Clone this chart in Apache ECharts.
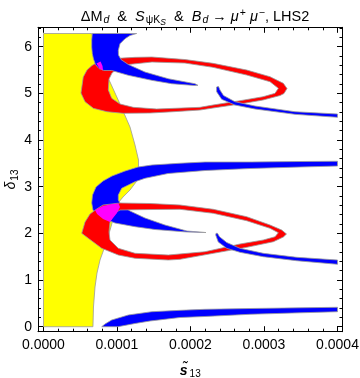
<!DOCTYPE html>
<html>
<head>
<meta charset="utf-8">
<script src="https://cdn.jsdelivr.net/npm/echarts@6/dist/echarts.min.js"></script>
<style>
  html, body { margin: 0; padding: 0; background: #fff; }
  #chart { width: 360px; height: 378px; }
</style>
</head>
<body>
<div id="chart"></div>
<script>
// region outlines: [s13 in units of 1e-4, delta13]
var S13_UNIT = 1e-4;

var xMajorTicks = [0, 1, 2, 3, 4];
var xMinorTicks = [0.2, 0.4, 0.6, 0.8, 1.2, 1.4, 1.6, 1.8, 2.2, 2.4, 2.6, 2.8, 3.2, 3.4, 3.6, 3.8];
var yMajorTicks = [0, 1, 2, 3, 4, 5, 6];
var yMinorTicks = [0.2, 0.4, 0.6, 0.8, 1.2, 1.4, 1.6, 1.8, 2.2, 2.4, 2.6, 2.8, 3.2, 3.4, 3.6, 3.8,
  4.2, 4.4, 4.6, 4.8, 5.2, 5.4, 5.6, 5.8, 6.2, 6.4];

// Delta M_d (yellow)
var yellowRegion = [
  [0, 0], [0, 6.283],
  [0.656, 6.283], [0.701, 6.036], [0.769, 5.715], [0.837, 5.457], [0.905, 5.243], [1.041, 4.772],
  [1.177, 4.279], [1.245, 3.894], [1.293, 3.572], [1.293, 3.315], [1.259, 3.101], [1.177, 2.929],
  [1.082, 2.779], [1.014, 2.651], [0.959, 2.394], [0.925, 2.179], [0.878, 1.922], [0.823, 1.665],
  [0.769, 1.429], [0.728, 1.151], [0.701, 0.851], [0.680, 0.422], [0.673, 0]
];

// S_psiKs (red), upper and lower loop
var redTopOuter = [
  [0.510, 5.007], [0.541, 5.350], [0.592, 5.500], [0.660, 5.597], [0.728, 5.661], [0.837, 5.715],
  [1.014, 5.751], [1.245, 5.772], [1.476, 5.779], [1.925, 5.725], [2.306, 5.644], [2.765, 5.500],
  [3.082, 5.357], [3.263, 5.215], [3.313, 5.104], [3.272, 4.997], [3.218, 4.954], [2.986, 4.858],
  [2.673, 4.772], [2.306, 4.686], [2.129, 4.643], [1.762, 4.607], [1.449, 4.579], [1.082, 4.573],
  [0.864, 4.607], [0.678, 4.680], [0.565, 4.821]
];
var redTopInner = [
  [3.195, 5.108], [3.082, 5.250], [2.765, 5.393], [2.306, 5.558], [1.925, 5.650], [1.476, 5.672],
  [1.150, 5.618], [1.014, 5.543], [0.932, 5.436], [0.891, 5.307], [0.882, 5.072], [0.928, 4.894],
  [1.041, 4.772], [1.222, 4.701], [1.540, 4.665], [2.129, 4.701], [2.306, 4.750], [2.673, 4.843],
  [2.986, 4.928], [3.150, 5.001]
];
var redLowOuter = [
  [0.520, 2.001], [0.565, 2.243], [0.633, 2.415], [0.724, 2.522], [0.810, 2.608], [1.041, 2.651],
  [1.449, 2.640], [1.857, 2.608], [2.310, 2.516], [2.765, 2.357], [3.082, 2.179], [3.241, 2.072],
  [3.306, 1.986], [3.263, 1.922], [3.127, 1.821], [2.765, 1.701], [2.310, 1.573], [1.857, 1.444],
  [1.698, 1.429], [1.245, 1.466], [1.018, 1.536], [0.792, 1.680], [0.610, 1.894]
];
var redLowInner = [
  [3.195, 2.014], [3.082, 2.108], [2.765, 2.271], [2.310, 2.430], [1.857, 2.516], [1.449, 2.511],
  [1.041, 2.501], [0.946, 2.415], [0.905, 2.243], [0.891, 2.029], [0.905, 1.858], [1.018, 1.680],
  [1.245, 1.573], [1.698, 1.536], [2.197, 1.607], [2.673, 1.772], [2.990, 1.858], [3.150, 1.928]
];

// B_d -> mu mu (blue)
var blueTopCrescent = [
  [0.664, 6.283], [0.656, 6.143], [0.656, 5.993], [0.664, 5.850], [0.680, 5.736], [0.707, 5.618],
  [0.755, 5.532], [0.823, 5.490], [0.928, 5.490], [1.154, 5.387], [1.472, 5.280], [1.744, 5.207],
  [2.061, 5.168], [2.102, 5.172],
  [2.061, 5.207], [1.698, 5.314], [1.381, 5.457], [1.154, 5.618], [1.054, 5.725], [1.020, 5.822],
  [1.018, 5.922], [1.041, 6.064], [1.109, 6.171], [1.177, 6.240], [1.268, 6.283]
];
var blueTopTail = [
  [2.381, 5.147], [2.401, 5.072], [2.449, 4.954], [2.605, 4.821], [2.878, 4.729], [3.422, 4.607], [4.0, 4.558],
  [4.0, 4.487], [3.422, 4.551], [2.878, 4.665], [2.605, 4.750], [2.424, 4.873], [2.356, 5.035], [2.354, 5.136]
];
var blueLowCrescent = [
  [4.0, 3.546], [3.490, 3.540], [2.810, 3.529], [2.197, 3.529], [1.857, 3.503], [1.476, 3.465],
  [1.286, 3.422], [1.109, 3.336], [0.932, 3.229], [0.810, 3.122], [0.714, 2.993], [0.667, 2.822],
  [0.656, 2.651], [0.673, 2.501], [0.728, 2.394], [0.837, 2.308], [0.973, 2.222], [1.245, 2.143],
  [1.517, 2.083], [1.952, 2.029], [2.211, 2.018],
  [1.952, 2.051], [1.653, 2.179], [1.381, 2.329], [1.177, 2.480], [1.054, 2.608], [1.018, 2.715],
  [1.018, 2.822], [1.064, 2.966], [1.245, 3.107], [1.381, 3.180], [1.694, 3.283], [2.197, 3.347],
  [2.810, 3.390], [3.490, 3.422], [4.0, 3.443]
];
var blueLowTail = [
  [2.367, 2.001], [2.395, 1.928], [2.493, 1.804], [2.673, 1.680], [2.990, 1.573], [3.445, 1.487], [4.0, 1.429],
  [4.0, 1.337], [3.445, 1.414], [2.990, 1.500], [2.673, 1.594], [2.493, 1.680], [2.378, 1.815], [2.343, 1.965], [2.347, 2.001]
];
var blueBottomBand = [
  [0.792, 0], [0.837, 0.058], [0.928, 0.144], [1.154, 0.251], [1.472, 0.321], [1.857, 0.351],
  [2.197, 0.373], [2.810, 0.390], [3.490, 0.405], [4.0, 0.416],
  [4.0, 0.321], [3.490, 0.298], [2.810, 0.266], [2.197, 0.219], [1.857, 0.197], [1.449, 0.122],
  [1.245, 0.069], [1.014, 0]
];

// all three constraints together (magenta)
var magentaTop = [[0.721, 5.640], [0.776, 5.683], [0.803, 5.586], [0.810, 5.490], [0.762, 5.532]];
var magentaLow = [
  [0.701, 2.501], [0.810, 2.587], [0.932, 2.629], [1.020, 2.640], [1.041, 2.565], [1.000, 2.436],
  [0.946, 2.329], [0.905, 2.243], [0.810, 2.308], [0.728, 2.415]
];

var FONT = 'Liberation Sans, Arial, sans-serif';
var X_MIN = -0.0748 * S13_UNIT, X_MAX = 4.068 * S13_UNIT;
var Y_MIN = -0.107, Y_MAX = 6.416;

function scaleX(list) { return list.map(function (v) { return v * S13_UNIT; }); }

function signedArea(ring) {
  var a = 0;
  for (var i = 0; i < ring.length; i++) {
    var p = ring[i], q = ring[(i + 1) % ring.length];
    a += p[0] * q[1] - q[0] * p[1];
  }
  return a;
}

function ringPath(api, ring) {
  var d = '';
  ring.forEach(function (p, i) {
    var c = api.coord([p[0] * S13_UNIT, p[1]]);
    d += (i ? 'L' : 'M') + c[0].toFixed(2) + ' ' + c[1].toFixed(2) + ' ';
  });
  return d + 'Z ';
}

// one filled region; extra rings are holes
function region(name, rings, color, stroke) {
  return {
    type: 'custom',
    name: name,
    coordinateSystem: 'cartesian2d',
    data: [[0, 0]],
    silent: true,
    animation: false,
    clip: false,
    renderItem: function (params, api) {
      var outerSign = Math.sign(signedArea(rings[0]));
      var d = '';
      rings.forEach(function (r, i) {
        var ring = r;
        if (i > 0 && Math.sign(signedArea(r)) === outerSign) ring = r.slice().reverse();
        d += ringPath(api, ring);
      });
      return {
        type: 'path',
        shape: { pathData: d },
        style: { fill: color, stroke: stroke, lineWidth: stroke ? 0.8 : 0 }
      };
    }
  };
}

function frameAxis(kind, position, ticks, len, line, labels, extra) {
  var ax = {
    type: 'value',
    position: position,
    min: kind === 'x' ? X_MIN : Y_MIN,
    max: kind === 'x' ? X_MAX : Y_MAX,
    axisLine: { show: line, onZero: false, lineStyle: { color: '#000', width: 1 } },
    axisTick: { show: true, inside: true, length: len, customValues: ticks, lineStyle: { color: '#000', width: 1 } },
    axisLabel: { show: false },
    splitLine: { show: false }
  };
  if (labels) {
    ax.axisLabel = {
      show: true, customValues: ticks, margin: 6, fontSize: 14, color: '#000', fontFamily: FONT,
      formatter: kind === 'x' ? function (v) { return v.toFixed(4); } : function (v) { return String(Math.round(v)); }
    };
  }
  return Object.assign(ax, extra || {});
}

function txt(size, italic, pad) {
  var s = { fontSize: size, fontFamily: FONT, color: '#000', fontWeight: 'normal', fontStyle: italic ? 'italic' : 'normal' };
  if (pad) s.padding = pad;
  return s;
}

var xMaj = scaleX(xMajorTicks), xMin = scaleX(xMinorTicks);

var chart = echarts.init(document.getElementById('chart'), null, { renderer: 'canvas' });
chart.setOption({
  animation: false,
  backgroundColor: '#fff',
  title: {
    text: '{r|ΔM}{is|d}{r|  &  }{i|S}{s|ψK}{ss|S}{r|  &  }{i|B}{is|d}{r| → }{i|μ}{sup|+}{r| }{i|μ}{sup|−}{r|, LHS2}',
    left: 190,
    top: 1,
    textAlign: 'center',
    textStyle: {
      fontWeight: 'normal',
      fontSize: 14.5,
      fontFamily: FONT,
      rich: {
        r: txt(14.5, false),
        i: txt(14.5, true),
        is: txt(10.5, true, [7, 0, 0, 1]),
        s: txt(10.5, false, [7, 0, 0, 1]),
        ss: txt(8.5, true, [12, 0, 0, 0]),
        sup: txt(10.5, false, [0, 0, 7, 1])
      }
    }
  },
  grid: { left: 38, right: 17.5, top: 27.3, bottom: 46.3, containLabel: false, outerBoundsMode: 'none' },
  xAxis: [
    frameAxis('x', 'bottom', xMaj, 5.5, true, true, {
      name: '{b|s\u0303}{s|13}',
      nameLocation: 'middle',
      nameGap: 31,
      nameTextStyle: {
        rich: {
          b: { fontSize: 14, fontFamily: FONT, color: '#000', fontStyle: 'italic', fontWeight: 'bold' },
          s: txt(10, false, [7, 0, 0, 2])
        }
      }
    }),
    frameAxis('x', 'bottom', xMin, 3, false, false),
    frameAxis('x', 'top', xMaj, 5.5, true, false),
    frameAxis('x', 'top', xMin, 3, false, false)
  ],
  yAxis: [
    frameAxis('y', 'left', yMajorTicks, 5.5, true, true, {
      name: '{i|δ}{s|13}',
      nameLocation: 'middle',
      nameGap: 18,
      nameRotate: 90,
      nameMoveOverlap: false,
      nameTextStyle: {
        rich: {
          i: txt(14, true),
          s: txt(10, false, [7, 0, 0, 1])
        }
      }
    }),
    frameAxis('y', 'left', yMinorTicks, 3, false, false),
    frameAxis('y', 'right', yMajorTicks, 5.5, true, false),
    frameAxis('y', 'right', yMinorTicks, 3, false, false)
  ],
  series: [
    region('ΔM_d', [yellowRegion], '#ffff00', '#9a9a9a'),
    region('S_psiKs upper', [redTopOuter, redTopInner], '#ff0000', '#9a9a9a'),
    region('Bd->mumu upper', [blueTopCrescent], '#0000ff', '#9a9a9a'),
    region('Bd->mumu lower', [blueLowCrescent], '#0000ff', '#9a9a9a'),
    region('S_psiKs lower', [redLowOuter, redLowInner], '#ff0000', '#9a9a9a'),
    region('Bd->mumu tail upper', [blueTopTail], '#0000ff', '#9a9a9a'),
    region('Bd->mumu tail lower', [blueLowTail], '#0000ff', '#9a9a9a'),
    region('Bd->mumu band', [blueBottomBand], '#0000ff', '#9a9a9a'),
    region('all upper', [magentaTop], '#ff00ff', null),
    region('all lower', [magentaLow], '#ff00ff', null)
  ]
});
</script>
</body>
</html>
